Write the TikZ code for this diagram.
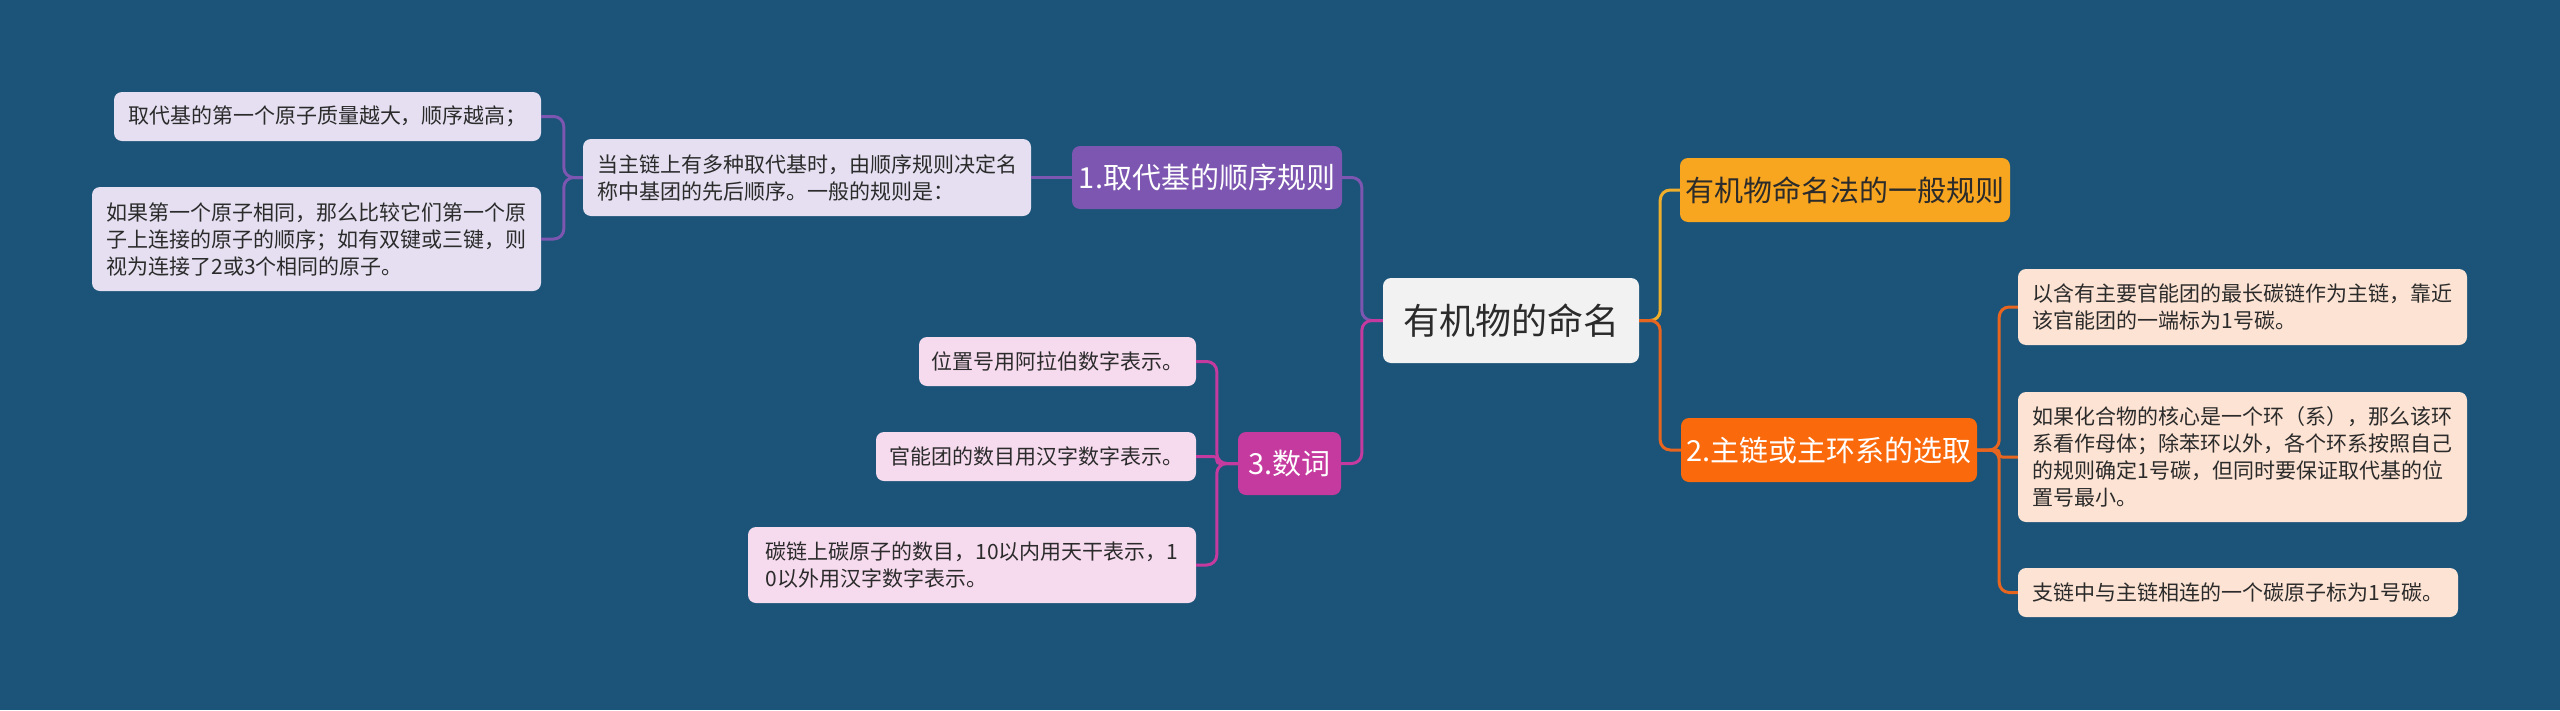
\documentclass[tikz,border=0pt]{standalone}
\usepackage{fontspec}
\newfontfamily\cjk{Noto Sans CJK SC}
\definecolor{bg}{HTML}{1B5478}
\definecolor{txt}{HTML}{2B2B2B}
\definecolor{centerfill}{HTML}{F2F2F2}
\definecolor{purp}{HTML}{7C56B0}
\definecolor{lav}{HTML}{E5DFF1}
\definecolor{mag}{HTML}{C53A9E}
\definecolor{pinkleaf}{HTML}{F6DAEE}
\definecolor{gold}{HTML}{F8A51F}
\definecolor{goldline}{HTML}{EFAE2C}
\definecolor{orng}{HTML}{FA6A0C}
\definecolor{orngline}{HTML}{E8651F}
\definecolor{peach}{HTML}{FDE3D3}
\begin{document}
\begin{tikzpicture}[x=1pt,y=-1pt,
  sz/.style 2 args={minimum width=#1pt, minimum height=#2pt},
  box/.style={rounded corners=8pt, inner sep=0pt, align=left},
  leaf/.style={box, text=txt, font=\cjk\fontsize{21pt}{27pt}\selectfont},
  mainbox/.style={box, font=\cjk\fontsize{29pt}{34pt}\selectfont},
  centerbox/.style={box, fill=centerfill, text=txt, font=\cjk\fontsize{36pt}{42pt}\selectfont},
  conn/.style={line width=3pt, rounded corners=10pt},
  pline/.style={conn, draw=purp},
  mline/.style={conn, draw=mag},
  yline/.style={conn, draw=goldline},
  oline/.style={conn, draw=orngline}]
\fill[bg] (0,0) rectangle (2560,710);
\useasboundingbox (0,0) rectangle (2560,710);

% center
\node[centerbox, sz={256}{85}] (c) at (1511,320.5) {有机物的命名};

% branch 1
\node[mainbox, sz={270}{63}, fill=purp, text=white] (n1) at (1207,177.5) {1.取代基的顺序规则};
\node[leaf, sz={448}{77}, fill=lav] (pc) at (807,177.5) {当主链上有多种取代基时，由顺序规则决定名\\称中基团的先后顺序。一般的规则是：};
\node[leaf, sz={427}{49}, fill=lav] (la) at (327.5,116.5) {取代基的第一个原子质量越大，顺序越高；};
\node[leaf, sz={449}{104}, fill=lav] (lb) at (316.5,239) {如果第一个原子相同，那么比较它们第一个原\\子上连接的原子的顺序；如有双键或三键，则\\视为连接了2或3个相同的原子。};

% branch 3
\node[mainbox, sz={103}{63}, fill=mag, text=white] (shu) at (1289.5,463.5) {3.数词};
\node[leaf, sz={277}{49}, fill=pinkleaf] (m1) at (1057.5,361.5) {位置号用阿拉伯数字表示。};
\node[leaf, sz={320}{49}, fill=pinkleaf] (m2) at (1036,456.5) {官能团的数目用汉字数字表示。};
\node[leaf, sz={448}{76}, fill=pinkleaf] (m3) at (972,565) {碳链上碳原子的数目，10以内用天干表示，1\\0以外用汉字数字表示。};

% right side
\node[mainbox, sz={330}{64}, fill=gold, text=txt] (gen) at (1845,190) {有机物命名法的一般规则};
\node[mainbox, sz={296}{64}, fill=orng, text=white] (m2b) at (1829,450) {2.主链或主环系的选取};
\node[leaf, sz={449}{76}, fill=peach] (r1) at (2242.5,307) {以含有主要官能团的最长碳链作为主链，靠近\\该官能团的一端标为1号碳。};
\node[leaf, sz={449}{130}, fill=peach] (r2) at (2242.5,457) {如果化合物的核心是一个环（系），那么该环\\系看作母体；除苯环以外，各个环系按照自己\\的规则确定1号碳，但同时要保证取代基的位\\置号最小。};
\node[leaf, sz={440}{49}, fill=peach] (r3) at (2238,592.5) {支链中与主链相连的一个碳原子标为1号碳。};

% connectors
\draw[pline] (c.west) -- ++(-21,0) |- (n1.east);
\draw[mline] (c.west) -- ++(-21,0) |- (shu.east);
\draw[pline] (n1.west) -- (pc.east);
\draw[pline] (pc.west) -- ++(-19,0) |- (la.east);
\draw[pline] (pc.west) -- ++(-19,0) |- (lb.east);
\draw[mline] (shu.west) -- ++(-21,0) |- (m1.east);
\draw[mline, rounded corners=3pt] (shu.west) -- ++(-21,0) |- (m2.east);
\draw[mline] (shu.west) -- ++(-21,0) |- (m3.east);
\draw[yline] (c.east) -- ++(21,0) |- (gen.west);
\draw[oline] (c.east) -- ++(21,0) |- (m2b.west);
\draw[oline] (m2b.east) -- ++(22,0) |- (r1.west);
\draw[oline, rounded corners=3pt] (m2b.east) -- ++(22,0) |- (r2.west);
\draw[oline] (m2b.east) -- ++(22,0) |- (r3.west);
\end{tikzpicture}
\end{document}
